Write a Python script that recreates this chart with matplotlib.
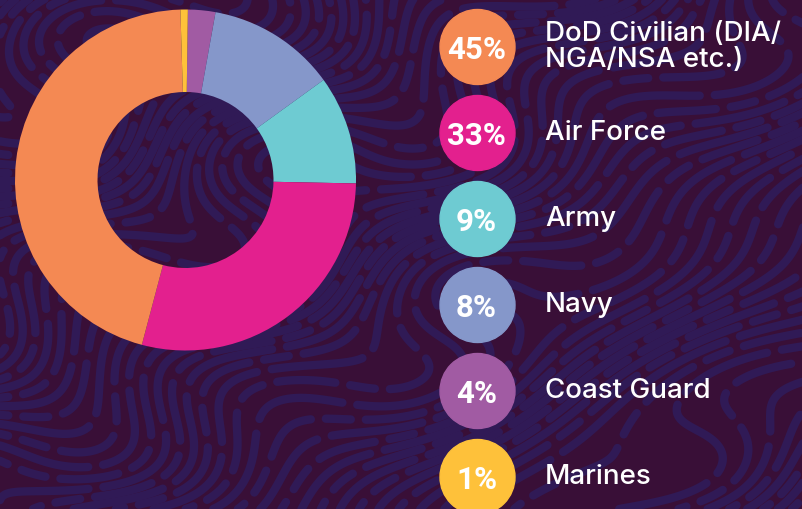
import numpy as np
import matplotlib.pyplot as plt

# legend values (as printed)
branches = ["DoD Civilian (DIA/\nNGA/NSA etc.)", "Air Force", "Army", "Navy",
            "Coast Guard", "Marines"]
shares = [45, 33, 9, 8, 4, 1]
# arc sizes as drawn in the ring
arcs = [45.4, 28.8, 10.3, 12.2, 2.6, 0.7]
colors = ["#f48953", "#e3208e", "#6ecbd2", "#8597ca", "#a15ba3", "#fec13a"]

bg = "#390f37"
squiggle = "#301a56"

fig = plt.figure(figsize=(8.03, 5.10), dpi=100)
fig.patch.set_facecolor(bg)
ax = fig.add_axes([0, 0, 1, 1])
ax.set_facecolor(bg)

# background doodle pattern: contour lines of a warped phase field
gx, gy = np.meshgrid(np.linspace(0, 803, 500), np.linspace(0, 510, 320))
phase = (0.55 * gx + 0.8 * gy + 30 * np.sin(gx / 53) * np.cos(gy / 47)
         + 18 * np.sin(gy / 31 + gx / 90) + 24 * np.cos(gx / 71 - gy / 39))
levels = np.arange(-80, 1100, 15.5)
for k, dash in enumerate([(0, (11, 1.8)), (6, (7, 1.8, 3, 1.8))]):
    cs = ax.contour(gx, gy, phase, levels=levels[k::2], colors=squiggle,
                    linestyles=[dash], zorder=0)
    cs.set_linewidth(6)
    cs.set_capstyle("round")

# ring, clockwise from 12 o'clock starting with Coast Guard
order = [4, 3, 2, 1, 0, 5]
wedges, _ = ax.pie([arcs[i] for i in order], colors=[colors[i] for i in order],
                   center=(185.5, 181), radius=170.5, startangle=-90 + 0.8,
                   counterclock=True, wedgeprops=dict(width=82.5, linewidth=0))
for w in wedges:
    w.set_zorder(2)

# legend column
y0, step = 48, 86
for i, (name, pct, col) in enumerate(zip(branches, shares, colors)):
    cy = y0 + i * step
    ax.add_patch(plt.Circle((477.5, cy), 37.5, color=col, zorder=3))
    ax.text(476.5, cy + 2, f"{pct}%", color="white", ha="center", va="center",
            fontsize=22.5, fontweight="bold", fontstretch="condensed",
            family=["Roboto", "DejaVu Sans"], zorder=4)
    ax.text(545, cy - 1, name, color="white", ha="left", va="center",
            fontsize=20, fontweight="medium", family=["Inter", "DejaVu Sans"],
            linespacing=1.02, zorder=4)

ax.set_xlim(0, 803)
ax.set_ylim(510, 0)
ax.set_aspect("equal")
ax.axis("off")

fig.savefig("out.png", dpi=100, facecolor=bg)
